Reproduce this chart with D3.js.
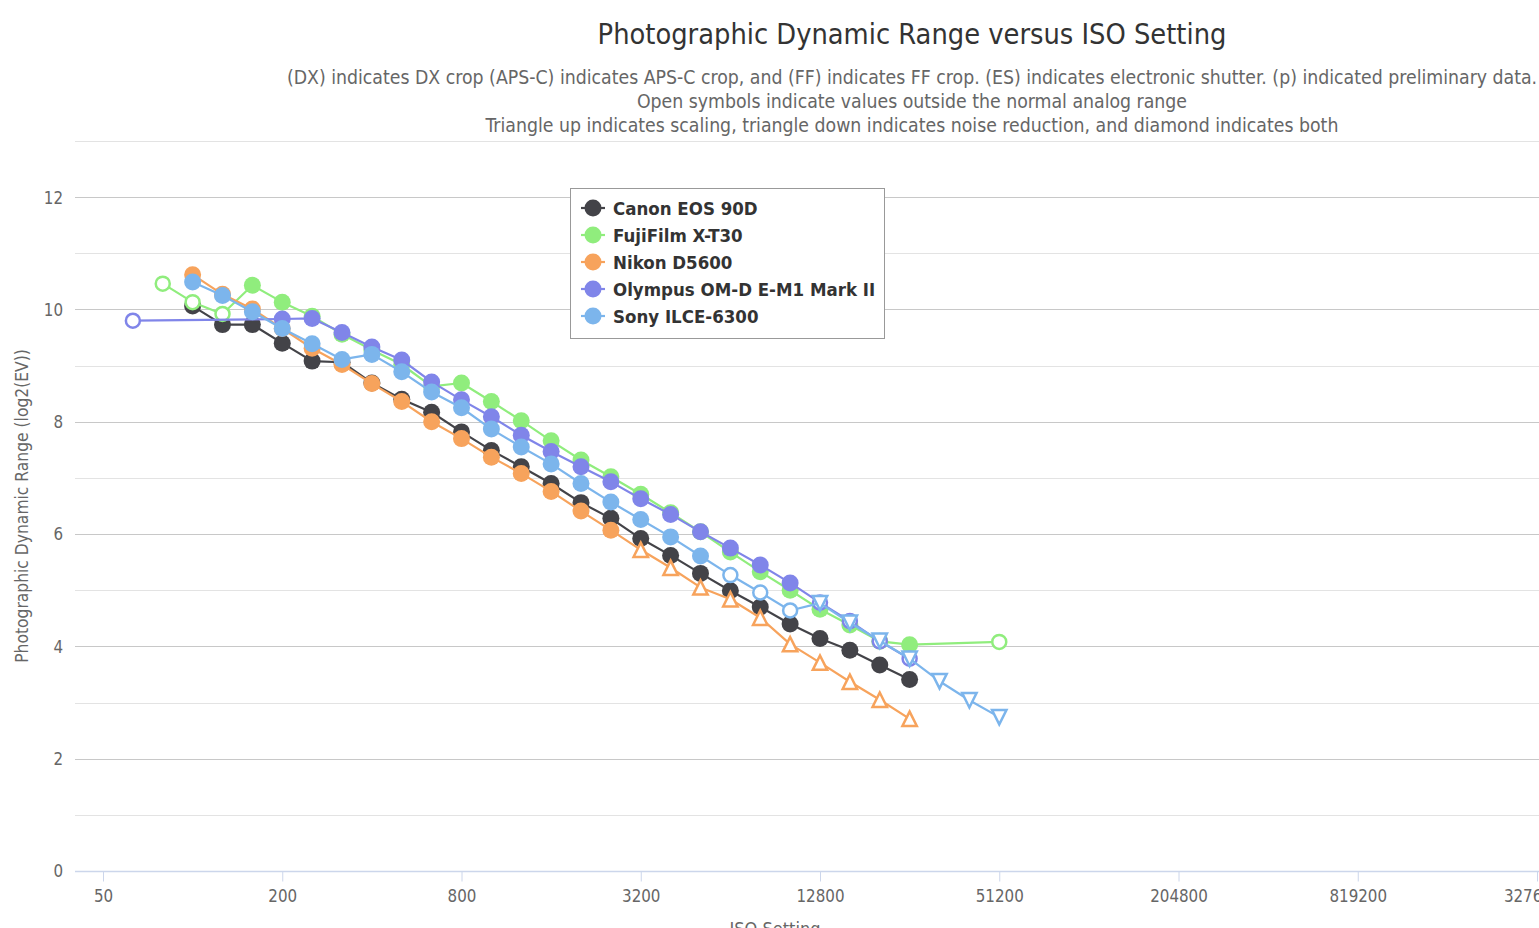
<!DOCTYPE html>
<html>
<head>
<meta charset="utf-8">
<script src="https://cdn.jsdelivr.net/npm/d3@7"></script>
<style>
  html, body { margin: 0; padding: 0; overflow: hidden; background: #fff; }
  svg { display: block; font-family: "DejaVu Sans Condensed", "DejaVu Sans", sans-serif; }
</style>
</head>
<body>
<svg id="chart" width="1824" height="940"></svg>
<script>
// ---------------- DATA ----------------
const titleText = "Photographic Dynamic Range versus ISO Setting";
const subtitleLines = [
  "(DX) indicates DX crop (APS-C) indicates APS-C crop, and (FF) indicates FF crop. (ES) indicates electronic shutter. (p) indicated preliminary data.",
  "Open symbols indicate values outside the normal analog range",
  "Triangle up indicates scaling, triangle down indicates noise reduction, and diamond indicates both"
];
const xTickValues = [50, 200, 800, 3200, 12800, 51200, 204800, 819200, 3276800];
const yTickValues = [0, 2, 4, 6, 8, 10, 12];
const yGridValues = [0, 1, 2, 3, 4, 5, 6, 7, 8, 9, 10, 11, 12, 13];
const xAxisTitle = "ISO Setting";
const yAxisTitle = "Photographic Dynamic Range (log2(EV))";

const seriesNames = ["Canon EOS 90D", "FujiFilm X-T30", "Nikon D5600", "Olympus OM-D E-M1 Mark II", "Sony ILCE-6300"];
const seriesColors = ["#434348", "#90ed7d", "#f7a35c", "#8085e9", "#7cb5ec"];

// marker codes: c = filled circle, o = open circle, u = open triangle up, d = open triangle down
const canonISO = [100,125,160,200,250,320,400,500,640,800,1000,1250,1600,2000,2500,3200,4000,5000,6400,8000,10000,12800,16000,20000,25600];
const canonPDR = [10.06,9.73,9.73,9.40,9.08,9.06,8.69,8.40,8.17,7.82,7.49,7.20,6.90,6.56,6.28,5.92,5.62,5.30,4.99,4.70,4.40,4.14,3.93,3.67,3.41];
const canonMarks = "ccccccccccccccccccccccccc";

const fujiISO = [80,100,125,160,200,250,320,400,500,640,800,1000,1250,1600,2000,2500,3200,4000,5000,6400,8000,10000,12800,16000,20000,25600,51200];
const fujiPDR = [10.46,10.13,9.92,10.43,10.13,9.88,9.56,9.28,9.02,8.63,8.69,8.36,8.02,7.66,7.32,7.02,6.71,6.38,6.04,5.68,5.33,5.00,4.66,4.38,4.09,4.03,4.08];
const fujiMarks = "oooccccccccccccccccccccccco";

const nikonISO = [100,125,160,200,250,320,400,500,640,800,1000,1250,1600,2000,2500,3200,4000,5000,6400,8000,10000,12800,16000,20000,25600];
const nikonPDR = [10.62,10.27,10.01,9.66,9.31,9.02,8.68,8.36,8.00,7.70,7.37,7.08,6.76,6.41,6.07,5.72,5.40,5.05,4.84,4.51,4.04,3.71,3.37,3.05,2.71];
const nikonMarks = "cccccccccccccccuuuuuuuuuu";

const olympusISO = [64,200,250,320,400,500,640,800,1000,1250,1600,2000,2500,3200,4000,5000,6400,8000,10000,12800,16000,20000,25600];
const olympusPDR = [9.80,9.83,9.84,9.59,9.33,9.10,8.71,8.39,8.09,7.76,7.47,7.20,6.93,6.63,6.35,6.04,5.75,5.45,5.13,4.78,4.45,4.09,3.78];
const olympusMarks = "occccccccccccccccccoooo";

const sonyISO = [100,125,160,200,250,320,400,500,640,800,1000,1250,1600,2000,2500,3200,4000,5000,6400,8000,10000,12800,16000,20000,25600,32000,40000,51200];
const sonyPDR = [10.49,10.25,9.96,9.66,9.39,9.11,9.20,8.89,8.53,8.25,7.87,7.55,7.25,6.90,6.57,6.26,5.95,5.61,5.27,4.96,4.64,4.77,4.42,4.10,3.78,3.38,3.04,2.74];
const sonyMarks = "cccccccccccccccccc" + "ooo" + "ddddddd";

const allISO = [canonISO, fujiISO, nikonISO, olympusISO, sonyISO];
const allPDR = [canonPDR, fujiPDR, nikonPDR, olympusPDR, sonyPDR];
const allMarks = [canonMarks, fujiMarks, nikonMarks, olympusMarks, sonyMarks];

// ---------------- LAYOUT ----------------
const svg = d3.select("#chart");
const plotLeft = 75, plotRight = 1800, plotTop = 141, plotBottom = 871;
const condFont = "'DejaVu Sans Condensed', 'DejaVu Sans', sans-serif";

// ISO settings are nominal 1/3-stop values; place them on their nominal stop
const nominal = iso => 50 * Math.pow(2, Math.round(3 * Math.log2(iso / 50)) / 3);

const x = d3.scaleLog().base(2).domain([50, 3276800]).range([103, 1537]);
const y = d3.scaleLinear().domain([0, 13]).range([plotBottom, plotTop]);

// grid
svg.append("g").selectAll("line").data(yGridValues).join("line")
  .attr("x1", plotLeft).attr("x2", plotRight)
  .attr("y1", d => Math.round(y(d)) + 0.5).attr("y2", d => Math.round(y(d)) + 0.5)
  .attr("stroke", d => d === 0 ? "none" : (d % 2 === 0 ? "#c8c8c8" : "#e3e3e3"))
  .attr("stroke-width", 1);

// x axis
const xAxis = d3.axisBottom(x).tickValues(xTickValues).tickFormat(d => String(d)).tickSize(10).tickSizeOuter(0);
const gx = svg.append("g").attr("transform", `translate(0,${Math.round(plotBottom) + 0.5})`).call(xAxis);
gx.select(".domain").remove();
gx.selectAll(".tick line").attr("stroke", "#ccd6eb");
gx.selectAll(".tick text").attr("fill", "#666").attr("font-size", 16.8).attr("dy", 0).attr("y", 30)
  .attr("font-family", condFont);
svg.append("line").attr("x1", plotLeft).attr("x2", plotRight)
  .attr("y1", Math.round(plotBottom) + 0.5).attr("y2", Math.round(plotBottom) + 0.5)
  .attr("stroke", "#ccd6eb").attr("stroke-width", 1.5);

// y axis labels
const yAxis = d3.axisLeft(y).tickValues(yTickValues).tickSize(0).tickPadding(0);
const gy = svg.append("g").attr("transform", `translate(63,0)`).call(yAxis);
gy.select(".domain").remove();
gy.selectAll(".tick text").attr("fill", "#666").attr("font-size", 16.8).attr("dy", "0.35em")
  .attr("font-family", condFont);

// axis titles
svg.append("text").attr("transform", `translate(28,${(plotTop + plotBottom) / 2}) rotate(-90)`)
  .attr("text-anchor", "middle").attr("fill", "#666").attr("font-size", 17.3).attr("font-family", condFont).text(yAxisTitle);
svg.append("text").attr("x", 775).attr("y", 935).attr("text-anchor", "middle")
  .attr("fill", "#666").attr("font-size", 18).attr("font-family", condFont).text(xAxisTitle);

// title / subtitle
svg.append("text").attr("x", 912).attr("y", 44).attr("text-anchor", "middle")
  .attr("fill", "#333").attr("font-size", 28.7).attr("font-family", condFont).text(titleText);
svg.append("g").selectAll("text").data(subtitleLines).join("text")
  .attr("x", 912).attr("y", (d, i) => 84 + i * 24).attr("text-anchor", "middle")
  .attr("fill", "#666").attr("font-size", 19.3).attr("font-family", condFont).text(d => d);

// ---------------- SERIES ----------------
function markerPath(code, cx, cy) {
  const r = 7.2;
  if (code === "u") return `M${cx},${cy - r}L${cx + r},${cy + r}L${cx - r},${cy + r}Z`;
  if (code === "d") return `M${cx - r},${cy - r}L${cx + r},${cy - r}L${cx},${cy + r}Z`;
  return null;
}

const line = d3.line().x(d => x(nominal(d.iso))).y(d => y(d.v));

seriesNames.forEach((name, s) => {
  const pts = allISO[s].map((iso, i) => ({ iso, v: allPDR[s][i], m: allMarks[s][i] }));
  const g = svg.append("g");
  g.append("path").datum(pts).attr("d", line).attr("fill", "none")
    .attr("stroke", seriesColors[s]).attr("stroke-width", 2.2).attr("stroke-linejoin", "round");
  pts.forEach(p => {
    const cx = x(nominal(p.iso)), cy = y(p.v);
    if (p.m === "c") {
      g.append("circle").attr("cx", cx).attr("cy", cy).attr("r", 8.5).attr("fill", seriesColors[s]);
    } else if (p.m === "o") {
      g.append("circle").attr("cx", cx).attr("cy", cy).attr("r", 7).attr("fill", "#fff")
        .attr("stroke", seriesColors[s]).attr("stroke-width", 2.5);
    } else {
      g.append("path").attr("d", markerPath(p.m, cx, cy)).attr("fill", "#fff")
        .attr("stroke", seriesColors[s]).attr("stroke-width", 2.5).attr("stroke-linejoin", "miter");
    }
  });
});

// ---------------- LEGEND ----------------
const lg = svg.append("g");
lg.append("rect").attr("x", 570.5).attr("y", 188.5).attr("width", 314).attr("height", 150)
  .attr("fill", "#fff").attr("stroke", "#999").attr("stroke-width", 1);
seriesNames.forEach((name, i) => {
  const cy = 208 + i * 27;
  lg.append("line").attr("x1", 581).attr("x2", 605).attr("y1", cy).attr("y2", cy)
    .attr("stroke", seriesColors[i]).attr("stroke-width", 2.2);
  lg.append("circle").attr("cx", 593).attr("cy", cy).attr("r", 8.5).attr("fill", seriesColors[i]);
  lg.append("text").attr("x", 613).attr("y", cy + 6.5).attr("fill", "#333")
    .attr("font-size", 18.5).attr("font-weight", "bold").attr("font-family", condFont).text(name);
});
</script>
</body>
</html>
